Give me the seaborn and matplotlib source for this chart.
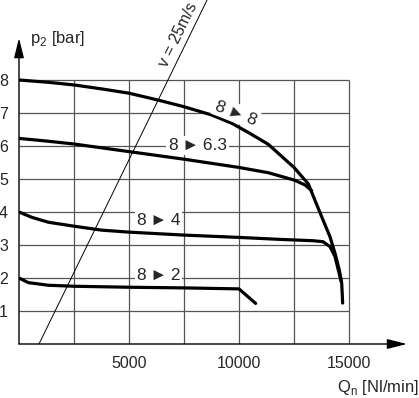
import numpy as np
import pandas as pd
import matplotlib
matplotlib.use("Agg")
import matplotlib.pyplot as plt
import seaborn as sns

# ---------------- DATA ----------------
# outlet pressure p2 [bar] vs flow Qn [Nl/min], inlet 8 bar
q_88 = [0, 1333, 2500, 3758, 5000, 6333, 7500, 8758, 9667, 10424, 11333, 12500,
        13152, 13364, 13818, 14136, 14364, 14560, 14668, 14712]
p_88 = [8.0, 7.93, 7.85, 7.73, 7.60, 7.39, 7.19, 6.94, 6.69, 6.41, 6.05, 5.35,
        4.85, 4.5, 3.76, 3.25, 2.75, 2.24, 1.85, 1.24]

q_863 = [0, 1250, 2500, 5000, 7500, 10000, 11333, 12500, 13000, 13300]
p_863 = [6.23, 6.15, 6.06, 5.83, 5.6, 5.35, 5.19, 4.97, 4.82, 4.65]

q_84 = [0, 576, 1333, 2500, 3758, 5000, 7500, 10000, 11864, 13364, 13818, 14136,
        14364, 14515, 14640]
p_84 = [4.0, 3.84, 3.69, 3.57, 3.45, 3.39, 3.30, 3.23, 3.17, 3.13, 3.1, 2.95,
        2.65, 2.24, 1.9]

q_82 = [0, 424, 1333, 2500, 5000, 7500, 10000, 10757]
p_82 = [2.0, 1.86, 1.78, 1.75, 1.72, 1.70, 1.67, 1.23]

# v = 25 m/s reference line
q_v = [909, 8545]
p_v = [0.0, 10.42]

curve_labels = ["8\u2009\u25ba\u20098", "8\u2009\u25ba\u20096.3", "8\u2009\u25ba\u20094", "8\u2009\u25ba\u20092"]
label_q = [9864, 8114, 6340, 6340]
label_p = [7.0, 6.02, 3.74, 2.09]
label_rot = [-21, 0, 0, 0]

xticks = [5000, 10000, 15000]
yticks = [1, 2, 3, 4, 5, 6, 7, 8]

# ---------------- PLOT ----------------
sns.set_style("white")
plt.rcParams['font.family'] = ['Liberation Sans', 'DejaVu Sans']

fig = plt.figure(figsize=(4.19, 3.98), dpi=100)
ax = fig.add_axes([19 / 419, 54 / 398, 400 / 419, 344 / 398])
ax.set_xlim(0, 18182)
ax.set_ylim(0, 10.424)

# grid (stops at 15000 / 8 bar)
ax.hlines(yticks, 0, 15000, color="#555555", lw=0.9, zorder=1)
ax.vlines([2500, 5000, 7500, 10000, 12500, 15000], 0, 8, color="#555555", lw=0.9, zorder=1)

sns.lineplot(x=q_v, y=p_v, color="black", lw=0.7, ax=ax, zorder=2)
for qq, pp in [(q_88, p_88), (q_863, p_863), (q_84, p_84), (q_82, p_82)]:
    sns.lineplot(x=qq, y=pp, color="black", lw=2.3, sort=False, ax=ax, zorder=3)
for ln in ax.lines:
    ln.set_solid_joinstyle("round")

for txt, xq, yp, rot in zip(curve_labels, label_q, label_p, label_rot):
    ax.text(xq, yp, txt, fontsize=12.5, ha="center", va="center", rotation=rot, zorder=4,
            bbox=dict(facecolor="white", edgecolor="none", pad=1.5))

ax.text(7227, 9.36, "v = 25m/s", fontsize=11.5, rotation=64, ha="center", va="center",
        rotation_mode="anchor", clip_on=False)

# axes with arrows
for sp in ax.spines.values():
    sp.set_visible(False)
arrow = dict(arrowstyle="-|>,head_length=0.6,head_width=0.15", color="black", lw=1,
             mutation_scale=20, shrinkA=0, shrinkB=0)
ax.annotate("", xy=(0, 9.27), xytext=(0, 0), arrowprops=arrow, annotation_clip=False)
ax.annotate("", xy=(17636, 0), xytext=(0, 0), arrowprops=arrow, annotation_clip=False)

ax.set_xticks(xticks)
ax.set_xticklabels([str(t) for t in xticks])
ax.set_yticks(yticks)
ax.set_yticklabels([str(t) for t in yticks])
ax.tick_params(axis="both", length=0, labelsize=11.5)
ax.tick_params(axis="y", pad=8)
ax.tick_params(axis="x", pad=8.5)

ax.text(520, 9.25, r"p$_\mathregular{2}$ [bar]", fontsize=12, ha="left", va="center", clip_on=False)
ax.text(18182, -1.33, r"Q$_\mathregular{n}$ [Nl/min]", fontsize=12, ha="right", va="center", clip_on=False)

fig.savefig("out.png", dpi=100)
